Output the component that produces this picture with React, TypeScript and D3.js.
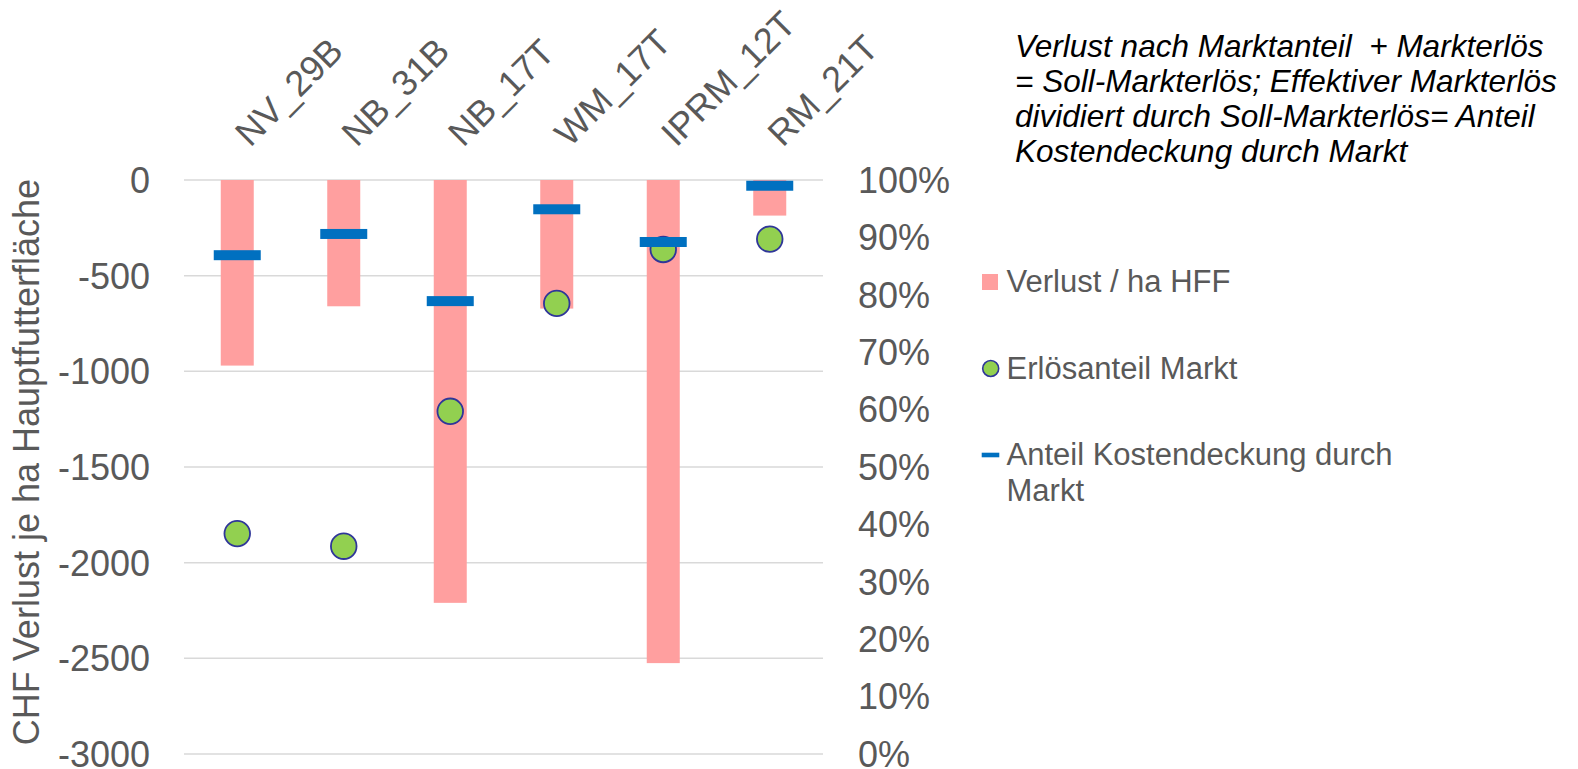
import React from "react";
import * as d3 from "d3";

const categories = ["NV_29B", "NB_31B", "NB_17T", "WM_17T", "IPRM_12T", "RM_21T"];
const verlustValues = [-970, -660, -2210, -672, -2525, -186];
const erloesanteilValues = [0.384, 0.362, 0.597, 0.785, 0.879, 0.897];
const kostendeckungValues = [0.869, 0.906, 0.789, 0.949, 0.892, 0.99];
const leftTicks = [0, -500, -1000, -1500, -2000, -2500, -3000];
const rightTicks = [0, 0.1, 0.2, 0.3, 0.4, 0.5, 0.6, 0.7, 0.8, 0.9, 1.0];
const legendLabels = ["Verlust / ha HFF", "Erlösanteil Markt", "Anteil Kostendeckung durch", "Markt"];
const noteLines = [
  "Verlust nach Marktanteil  + Markterlös",
  "= Soll-Markterlös; Effektiver Markterlös",
  "dividiert durch Soll-Markterlös= Anteil",
  "Kostendeckung durch Markt",
];
const yTitle = "CHF Verlust je ha Hauptfutterfläche";

const W = 1578;
const H = 769;
const FONT = "'Liberation Sans', Arial, Helvetica, sans-serif";
const GREY = "#595959";

export default function App() {
  const x = d3.scaleBand<string>().domain(categories).range([184, 823]).padding(0);
  const yL = d3.scaleLinear().domain([-3000, 0]).range([754, 180]);
  const yR = d3.scaleLinear().domain([0, 1]).range([754, 180]);
  const barW = 33;
  const dashW = 47;
  const dashH = 10;
  const pct = d3.format(".0%");

  return (
    <svg
      width={W}
      height={H}
      style={{ position: "absolute", left: 0, top: 0, background: "#fff" }}
      fontFamily={FONT}
    >
      <rect x={0} y={0} width={W} height={H} fill="#fff" />
      {/* gridlines */}
      {leftTicks.map((t) => (
        <line
          key={"g" + t}
          x1={184}
          x2={823}
          y1={yL(t)}
          y2={yL(t)}
          stroke="#D9D9D9"
          strokeWidth={1.5}
        />
      ))}
      {/* left ticks */}
      {leftTicks.map((t) => (
        <text
          key={"l" + t}
          x={150}
          y={yL(t)}
          dy="0.358em"
          textAnchor="end"
          fontSize={36}
          fill={GREY}
        >
          {t}
        </text>
      ))}
      {/* right ticks */}
      {rightTicks.map((t) => (
        <text
          key={"r" + t}
          x={858}
          y={yR(t)}
          dy="0.358em"
          textAnchor="start"
          fontSize={36}
          fill={GREY}
        >
          {pct(t)}
        </text>
      ))}
      {/* y title */}
      <text
        transform={`translate(38.5, 462) rotate(-90)`}
        textAnchor="middle"
        fontSize={36}
        fill={GREY}
      >
        {yTitle}
      </text>
      {/* bars */}
      {categories.map((c, i) => {
        const cx = (x(c) as number) + x.bandwidth() / 2;
        const v = verlustValues[i];
        return (
          <rect
            key={"b" + c}
            x={cx - barW / 2}
            y={yL(0)}
            width={barW}
            height={yL(v) - yL(0)}
            fill="#FF9F9F"
          />
        );
      })}
      {/* green circles */}
      {categories.map((c, i) => {
        const cx = (x(c) as number) + x.bandwidth() / 2;
        return (
          <circle
            key={"c" + c}
            cx={cx}
            cy={yR(erloesanteilValues[i])}
            r={12.8}
            fill="#92D050"
            stroke="#2F3699"
            strokeWidth={1.8}
          />
        );
      })}
      {/* blue dashes */}
      {categories.map((c, i) => {
        const cx = (x(c) as number) + x.bandwidth() / 2;
        return (
          <rect
            key={"d" + c}
            x={cx - dashW / 2}
            y={yR(kostendeckungValues[i]) - dashH / 2}
            width={dashW}
            height={dashH}
            fill="#0070C0"
          />
        );
      })}
      {/* category labels */}
      {categories.map((c) => {
        const cx = (x(c) as number) + x.bandwidth() / 2;
        return (
          <text
            key={"t" + c}
            transform={`translate(${cx + 13}, 148) rotate(-45)`}
            textAnchor="start"
            fontSize={36}
            fill={GREY}
          >
            {c}
          </text>
        );
      })}
      {/* legend */}
      <rect x={982} y={274} width={16} height={16} fill="#FF9F9F" />
      <text x={1006.5} y={291.7} fontSize={31} fill={GREY}>
        {legendLabels[0]}
      </text>
      <circle cx={990.7} cy={368.5} r={8} fill="#92D050" stroke="#2F3699" strokeWidth={1.6} />
      <text x={1006.5} y={378.5} fontSize={31} fill={GREY}>
        {legendLabels[1]}
      </text>
      <rect x={981.7} y={452.7} width={17.6} height={4.6} fill="#0070C0" />
      <text x={1006.5} y={465} fontSize={31} fill={GREY}>
        {legendLabels[2]}
      </text>
      <text x={1006.5} y={501} fontSize={31} fill={GREY}>
        {legendLabels[3]}
      </text>
      {/* note */}
      {noteLines.map((line, i) => (
        <text
          key={"n" + i}
          x={1015}
          y={56.5 + i * 35.2}
          fontSize={31.5}
          fontStyle="italic"
          fill="#000"
          style={{ whiteSpace: "pre" }}
        >
          {line}
        </text>
      ))}
    </svg>
  );
}
